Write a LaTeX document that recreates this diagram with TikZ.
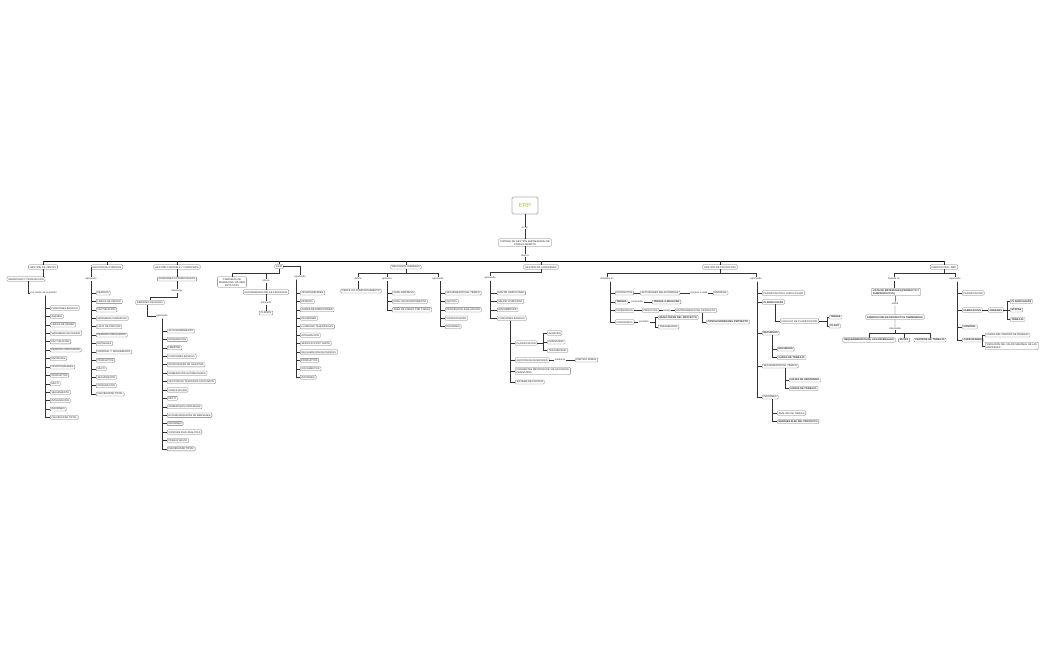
\documentclass[tikz,border=0pt]{standalone}
\usepackage{fontspec}
\setmainfont{Liberation Sans}
\definecolor{erpgreen}{RGB}{168,196,62}
\newcommand\sz{\fontsize{2.5}{2.95}\selectfont}
\tikzset{
 box/.style={draw=black!55, line width=0.3pt, rounded corners=0.8pt, fill=white, inner xsep=1.4pt, inner ysep=1.1pt, font=\sz, text=black!85, align=left},
 boxb/.style={box, font=\sz\bfseries},
 lbl/.style={fill=white, inner sep=0.5pt, font=\sz, text=black!80},
 conn/.style={draw=black!80, line width=0.45pt},
 busl/.style={draw=black, line width=0.7pt},
}
\newcommand\mklist[6]{% style, prefix, spine coord, x, y0, list
 \foreach \tx [count=\i] in {#6} {
   \node[#1, anchor=west] (#2\i) at (#4,{#5+8.42*(\i-1)}) {\tx};
   \draw[conn] (#3) |- (#2\i.west);
 }}
\begin{document}
\begin{tikzpicture}[x=1pt,y=-1pt]
\fill[white] (0,0) rectangle (1050,650);
\useasboundingbox (0,0) rectangle (1050,650);

% ---------- top ----------
\node[draw=black!30, line width=0.9pt, rounded corners=1.5pt, fill=white, minimum width=26pt, minimum height=17pt, font=\fontsize{6}{7}\selectfont, text=erpgreen] (erp) at (525,205.5) {ERP};
\node[lbl] (esun) at (525,228) {es un};
\node[box, align=center] (sis) at (525,242.5) {SISTEMA DE GESTIÓN EMPRESARIAL DE\\CÓDIGO ABIERTO};
\node[lbl] (abar) at (525,255.5) {abarca};
\coordinate (hub) at (525,261);
\draw[conn] (erp) -- (esun) -- (sis) -- (abar) -- (hub);

% ---------- branches ----------
\node[box] (gv) at (43,267) {GESTIÓN DE VENTAS};
\node[box] (gc) at (107,267) {GESTIÓN DE COMPRAS};
\node[box] (gf) at (177,267) {GESTIÓN CONTABLE Y FINANCIERA};
\node[box] (crm) at (279,266.5) {CRM};
\node[box] (rh) at (406,267) {RECURSOS HUMANOS};
\node[box] (ga) at (541,267) {GESTIÓN DE ALMACENES};
\node[box] (gp) at (720,267) {GESTIÓN DE PROYECTOS};
\node[box] (fm) at (944,267) {FABRICACIÓN - MRP};
\draw[busl] (gv.north |- hub) -- (fm.north |- hub);
\foreach \b in {gv,gc,gf,crm,rh,ga,gp,fm} {\draw[conn] (\b.north |- hub) -- (\b.north);}

% ---------- ventas ----------
\node[box] (inv) at (26,279) {INVENTARIO Y PRODUCCIÓN};
\draw[conn] (gv.south) -- (gv.south |- inv.north);
\node[lbl, anchor=west] (vm) at (30,293) {por medio de la gestión};
\draw[conn] ([xshift=2pt]inv.south) |- (vm.west);
\coordinate (vs) at (45,295.5);
\mklist{box}{v}{vs}{50}{308}{FUNCIONES BÁSICAS,AGENDA,LÍNEAS DE ORDEN,MÁRGENES DE PEDIDO,FACTURACIÓN,PEDIDOS VINCULADOS,ENTREGAS,OPORTUNIDADES,PRODUCTOS,MULTI,SEGUIMIENTO,INTEGRACIÓN,INFORMES,FLEXIBILIDAD TOTAL}

% ---------- compras ----------
\node[lbl] (ca) at (91,279) {apoyando};
\draw[conn] (gc.west) -| (ca.north);
\coordinate (cs) at (91,281);
\mklist{box}{c}{cs}{96}{293}{PEDIDOS,LÍNEAS DE PEDIDO,FACTURACIÓN,MÁRGENES DINÁMICOS,LISTA DE PRECIOS,PEDIDOS VINCULADOS,ENTREGAS,CONTROL Y SEGUIMIENTO,PRODUCTOS,MULTI,SEGUIMIENTO,INTEGRACIÓN,FLEXIBILIDAD TOTAL}

% ---------- contable ----------
\node[box] (fa) at (177,279) {FUNCIONES AUTOMATIZADAS};
\draw[conn] (gf) -- (fa);
\node[lbl] (dis) at (177,291) {disminuye};
\draw[conn] (fa) -- (dis);
\coordinate (dj) at (177,297);
\node[box] (td) at (150,302.5) {ERRORES DE DATOS};
\draw[conn] (dis) -- (dj) -| (td.north);
\node[lbl] (fap) at (162,316) {aportando};
\draw[conn] ([xshift=-3pt]td.south) |- (fap.west);
\coordinate (fs) at (162,318.5);
\mklist{box}{f}{fs}{167}{331}{ALTO RENDIMIENTO,INTEGRACIÓN,LIBERTAD,FUNCIONES BÁSICAS,PROPOSICIÓN DE ASIENTOS,NUMERACIÓN AUTOMATIZADA,GESTIÓN DE TERCEROS ASOCIADOS,CONCILIACIÓN,MULTI,NUMEROSOS CONTABLES,ESTANDARIZACIÓN DE MENSAJES,INFORMES,CONTABILIDAD ANALÍTICA,PRESUPUESTO,FLEXIBILIDAD TOTAL}

% ---------- CRM ----------
\coordinate (crj) at (279,273);
\node[box, align=center] (cmk) at (232,282) {CAMPAÑAS DE\\MARKETING VÍA WEB\\ESTÁTICAS};
\node[lbl] (ofr) at (266,281) {ofrece};
\draw[conn] (crm.south) -- (crj) -| (cmk.north);
\draw[conn] (crj) -| (ofr.north);
\node[box] (cst) at (266,292) {ESTANDARIZACIÓN DE PROCESOS};
\node[lbl] (enf) at (266,303) {enfocado};
\node[box] (cli) at (266,313) {CLIENTE};
\draw[conn] (ofr) -- (cst) -- (enf) -- (cli);
\node[lbl] (cap) at (300,277) {aportando};
\draw[conn] (crm.east) -| (cap.north);
\coordinate (crs) at (296,279.5);
\mklist{box}{k}{crs}{300}{293}{OPORTUNIDADES,PEDIDOS,CARGA DE DIRECCIONES,REUNIONES,LLAMADAS TELEFÓNICAS,INTEGRACIÓN,SERVICIO POST VENTA,RECLAMACIÓN DE PEDIDOS,PRODUCTOS,DOCUMENTOS,INFORMES}

% ---------- RRHH ----------
\coordinate (rhj) at (406,273);
\node[lbl] (def) at (358,279) {define};
\node[lbl] (ges) at (387,279) {gestiona};
\node[lbl] (rap) at (438,279) {aportando};
\draw[conn] (rh.south) -- (rhj);
\draw[conn] (rhj) -| (def.north);
\draw[conn] (rhj) -| (ges.north);
\draw[conn] (rhj) -| (rap.north);
\node[box] (pc) at (361,291) {PERFIL DE COMPORTAMIENTO};
\draw[conn] (def.south) -- (def.south |- pc.north);
\coordinate (gs) at (387,281);
\mklist{box}{g}{gs}{392}{293}{NIVEL EMPRESA,NIVEL DE DEPARTAMENTO,ÁREA DE CARGO POR CARGO}
\coordinate (rs) at (440,281);
\mklist{box}{r}{rs}{445}{293}{SEGUIMIENTO DEL TIEMPO,GASTOS,PROCESO DE EVALUACIÓN,CONTRATACIÓN,INFORMES}

% ---------- almacenes ----------
\coordinate (gaj) at (541,272);
\node[lbl] (aap) at (490,278) {aportando};
\draw[conn] (ga.south) -- (gaj) -| (aap.north);
\coordinate (as) at (490,280.5);
\mklist{box}{a}{as}{497}{293}{MAYOR SIMPLICIDAD,MEJOR VISIBILIDAD,DOCUMENTOS,FUNCIONES BÁSICAS}
\coordinate (a4s) at ([xshift=13pt]a4.south west);
\node[box, anchor=west] (p1) at (515,343) {PLANIFICACIÓN};
\node[box, anchor=west] (p2) at (515,360) {GESTIÓN DE INVENTARIO};
\node[box, anchor=west] (p3) at (515,371) {DIFERENTES MÉTODOS DE VALUACIÓN DE\\INVENTARIO};
\node[box, anchor=west] (p4) at (515,382) {SISTEMA DE COSTEO};
\foreach \i in {1,...,4} {\draw[conn] (a4s) |- (p\i.west);}
\coordinate (pj) at (543,343);
\draw[conn] (p1.east) -- (pj);
\node[box, anchor=west] (q1) at (547,333) {ALMACÉN};
\node[box, anchor=west] (q2) at (547,342) {INVENTARIO};
\node[box, anchor=west] (q3) at (547,350.5) {TRAZABILIDAD};
\foreach \i in {1,2,3} {\draw[conn] (pj) |- (q\i.west);}
\node[lbl] (med) at (560,360) {mediante};
\node[box, anchor=west] (pd) at (575,360) {PARTIDA DOBLE};
\draw[conn] (p2) -- (med) -- (pd);

% ---------- proyectos ----------
\coordinate (gpj) at (720,273);
\node[lbl] (div) at (607,279) {divididos en};
\node[lbl] (pap) at (756,279) {aportando};
\draw[conn] (gp.south) -- (gpj);
\draw[conn] (gpj) -| (div.north);
\draw[conn] (gpj) -| (pap.north);
\coordinate (ds) at (610,281.5);
\node[box, anchor=west] (r1) at (615,293) {PROYECTOS};
\node[boxb, anchor=west] (r2) at (615,302) {TAREAS};
\node[box, anchor=west] (r3) at (615,310.5) {INCIDENCIAS};
\node[box, anchor=west] (r4) at (615,322) {CATEGORÍAS};
\foreach \i in {1,...,4} {\draw[conn] (ds) |- (r\i.west);}
\node[box, anchor=west] (act) at (640,293) {ACTIVIDADES RELACIONADAS};
\node[lbl] (gen) at (699,293) {Genera a cada};
\node[box, anchor=west] (ent) at (713,293) {ENTREGA};
\draw[conn] (r1) -- (act) -- (gen) -- (ent);
\node[lbl] (comp) at (637,302) {compuesto};
\node[boxb, anchor=west] (tar) at (652,302) {TAREAS A REALIZAR};
\draw[conn] (r2) -- (comp) -- (tar);
\node[box, anchor=west] (obj) at (642,310.5) {OBJETIVOS};
\node[lbl] (aso) at (667,310.5) {asocia};
\node[box, anchor=west] (eng) at (675,310.5) {ENTREGABLES DEL PROYECTO};
\draw[conn] (r3) -- (obj) -- (aso) -- (eng);
\node[lbl] (perm) at (644,322) {permiten};
\coordinate (pmj) at (655,322);
\node[boxb, anchor=west] (res) at (658,317.5) {RESULTADOS DEL PROYECTO};
\node[box, anchor=west] (tzb) at (658,327) {TRAZABILIDAD};
\draw[conn] (r4) -- (perm) -- (pmj);
\draw[conn] (pmj) |- (res.west);
\draw[conn] (pmj) |- (tzb.west);
\node[boxb, anchor=west] (conc) at (706,322) {CONCLUSIONES DEL PROYECTO};
\draw[conn] ([xshift=27pt]eng.south west) |- (conc.west);

\coordinate (ps) at (757,281.5);
\node[box, anchor=west] (s1) at (762,293) {PLANIFICACIÓN A LARGO PLAZO};
\node[boxb, anchor=west] (s2) at (762,302) {PLANIFICACIÓN};
\node[boxb, anchor=west] (s3) at (762,333) {RECURSOS};
\node[box, anchor=west] (s4) at (762,366) {SEGUIMIENTO DEL TIEMPO};
\node[box, anchor=west] (s5) at (762,397) {INFORMES};
\foreach \i in {1,...,5} {\draw[conn] (ps) |- (s\i.west);}
\coordinate (s2s) at ([xshift=13pt]s2.south west);
\node[box, anchor=west] (calc) at (780,321) {CÁLCULO DE PLANIFICACIÓN};
\draw[conn] (s2s) |- (calc.west);
\coordinate (cj) at (827,321);
\draw[conn] (calc.east) -- (cj);
\node[boxb, anchor=west] (t1) at (829,317) {TAREAS};
\node[boxb, anchor=west] (t2) at (829,326) {PLAZO};
\draw[conn] (cj) |- (t1.west);
\draw[conn] (cj) |- (t2.west);
\coordinate (s3s) at ([xshift=10pt]s3.south west);
\node[boxb, anchor=west] (u1) at (777,349) {RECURSOS};
\node[boxb, anchor=west] (u2) at (777,357.5) {CARGA DE TRABAJO};
\draw[conn] (s3s) |- (u1.west);
\draw[conn] (s3s) |- (u2.west);
\coordinate (s4s) at ([xshift=23pt]s4.south west);
\node[boxb, anchor=west] (w1) at (789,380) {HOJAS DE ASISTENCIA};
\node[boxb, anchor=west] (w2) at (789,388.5) {HORAS DE TRABAJO};
\draw[conn] (s4s) |- (w1.west);
\draw[conn] (s4s) |- (w2.west);
\coordinate (s5s) at ([xshift=10pt]s5.south west);
\node[box, anchor=west] (x1) at (777,413) {ANÁLISIS DE TAREAS};
\node[boxb, anchor=west] (x2) at (777,421.5) {RENTABILIDAD DEL PROYECTO};
\draw[conn] (s5s) |- (x1.west);
\draw[conn] (s5s) |- (x2.west);

% ---------- fabricacion ----------
\coordinate (fmj) at (944,273);
\node[lbl] (bas) at (894,279) {basada en};
\node[lbl] (fap2) at (955,279) {aportando};
\draw[conn] (fm.south) -- (fmj);
\draw[conn] (fmj) -| (bas.north);
\draw[conn] (fmj) -| (fap2.north);
\node[boxb] (lm) at (896,292) {LISTA DE MATERIALES (PRODUCTO Y\\SUBPRODUCTOS)};
\node[lbl] (uti) at (895,304) {utiliza};
\node[boxb] (fp) at (895,317) {FABRICACIÓN DE PRODUCTOS TERMINADOS};
\node[lbl] (calcu) at (895,328.5) {calculando};
\draw[conn] (bas) -- (bas |- lm.north);
\draw[conn] (lm) -- (uti) -- (fp) -- (calcu);
\coordinate (clj) at (895,333);
\draw[conn] (calcu) -- (clj);
\node[boxb] (req) at (869,340) {REQUERIMIENTOS DE LOS MATERIALES};
\node[boxb] (rut) at (904,340) {RUTAS};
\node[boxb] (ctr) at (930,340) {CENTROS DE TRABAJO};
\draw[conn] (clj) -| (req.north);
\draw[conn] (clj) -| (rut.north);
\draw[conn] (clj) -| (ctr.north);
\coordinate (ms) at (957,281.5);
\node[box, anchor=west] (m1) at (962,293) {PLANIFICACIÓN};
\node[boxb, anchor=west] (m2) at (962,310) {FABRICACIÓN};
\node[boxb, anchor=west] (m3) at (962,327) {CONTROL};
\node[boxb, anchor=west] (m4) at (962,340) {CAPACIDADES};
\foreach \i in {1,...,4} {\draw[conn] (ms) |- (m\i.west);}
\node[boxb, anchor=west] (ord) at (988,310) {ÓRDENES};
\draw[conn] (m2) -- (ord);
\coordinate (oj) at (1007,310);
\draw[conn] (ord.east) -- (oj);
\node[boxb, anchor=west] (n1) at (1010,301.5) {PLANIFICACIÓN};
\node[boxb, anchor=west] (n2) at (1010,310) {ETAPAS};
\node[boxb, anchor=west] (n3) at (1010,319.5) {TRABAJO};
\foreach \i in {1,2,3} {\draw[conn] (oj) |- (n\i.west);}
\coordinate (kj) at (982,340);
\draw[conn] (m4.east) -- (kj);
\node[box, anchor=west] (y1) at (985,335) {CARGA DEL CENTRO DE TRABAJO};
\node[box, anchor=west] (y2) at (985,346) {VARIACIÓN DEL VALOR SEMANAL DE LAS\\EMPRESAS};
\draw[conn] (kj) |- (y1.west);
\draw[conn] (kj) |- (y2.west);
\end{tikzpicture}
\end{document}
